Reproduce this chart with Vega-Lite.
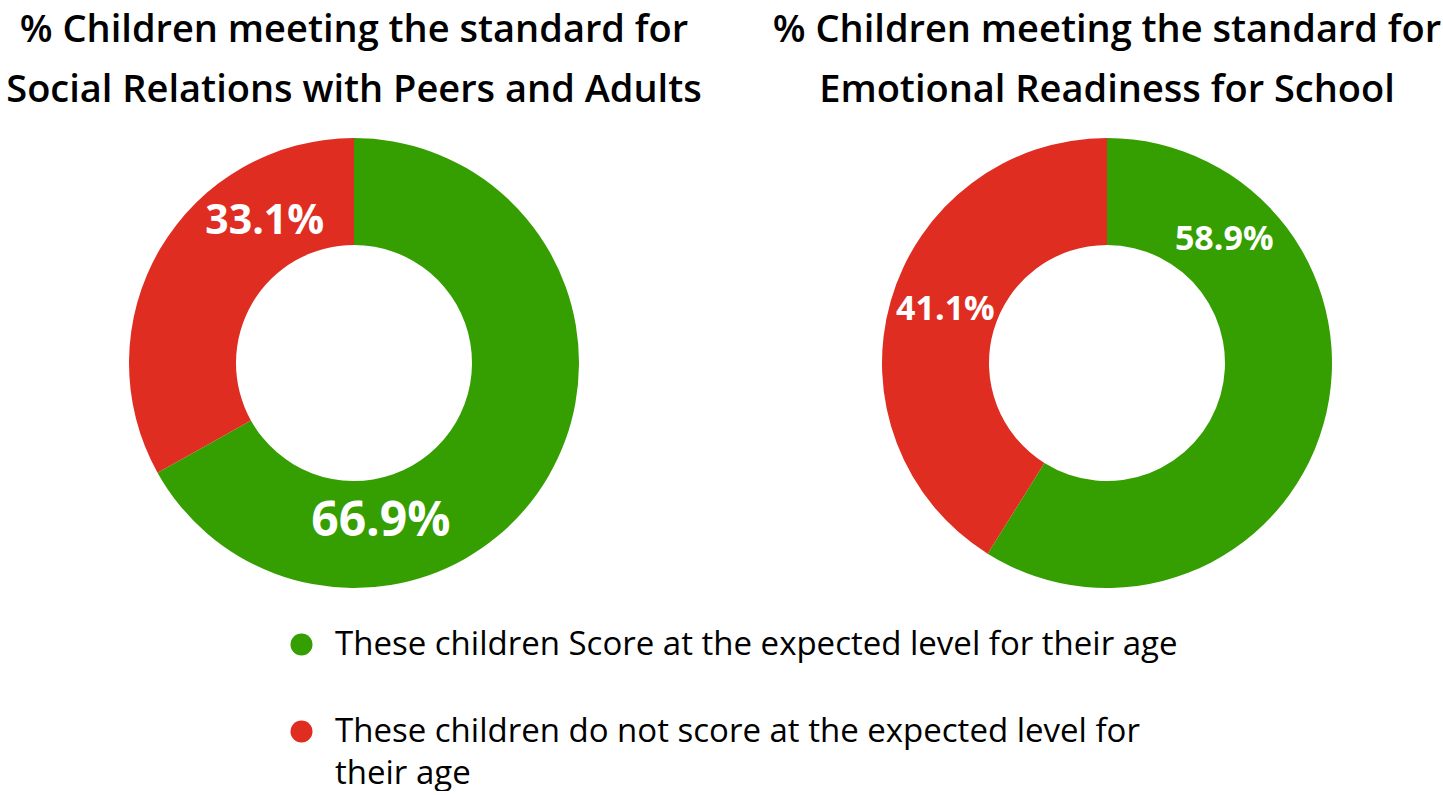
{
  "$schema": "https://vega.github.io/schema/vega-lite/v6.json",
  "padding": {"top": 12, "left": 0, "right": 0, "bottom": 0},
  "background": "white",
  "datasets": {
    "scores": [
      {"chart": "social", "group": "These children Score at the expected level for their age", "value": 0.669, "order": 1},
      {"chart": "social", "group": "These children do not score at the expected level for their age", "value": 0.331, "order": 2},
      {"chart": "emotional", "group": "These children Score at the expected level for their age", "value": 0.589, "order": 1},
      {"chart": "emotional", "group": "These children do not score at the expected level for their age", "value": 0.411, "order": 2}
    ]
  },
  "spacing": 63,
  "bounds": "flush",
  "resolve": {"scale": {"color": "shared"}},
  "hconcat": [
    {
      "width": 708,
      "height": 490,
      "data": {"name": "scores"},
      "transform": [
        {"filter": "datum.chart == 'social'"},
        {"stack": "value", "groupby": [], "sort": [{"field": "order"}], "as": ["start", "end"]}
      ],
      "title": {
        "text": ["% Children meeting the standard for", "Social Relations with Peers and Adults"],
        "fontSize": 38,
        "fontWeight": 600,
        "lineHeight": 60,
        "offset": 8,
        "anchor": "middle",
        "color": "black"
      },
      "layer": [
        {
          "mark": {"type": "arc", "outerRadius": 225, "innerRadius": 118},
          "encoding": {
            "theta": {"field": "start", "type": "quantitative", "scale": {"domain": [0, 1]}},
            "theta2": {"field": "end"},
            "color": {
              "field": "group",
              "type": "nominal",
              "scale": {
                "domain": ["These children Score at the expected level for their age", "These children do not score at the expected level for their age"],
                "range": ["#359e00", "#e02d22"]
              },
              "legend": {
                "orient": "none",
                "legendX": 285,
                "legendY": 510,
                "title": null,
                "symbolType": "circle",
                "symbolSize": 484,
                "symbolStrokeWidth": 0,
                "labelFontSize": 33,
                "labelLimit": 1000,
                "labelOffset": 17,
                "labelColor": "black",
                "rowPadding": 53,
                "labelExpr": "datum.label == 'These children do not score at the expected level for their age' ? ['These children do not score at the expected level for', 'their age'] : datum.label",
                "encode": {"labels": {"update": {"lineHeight": {"value": 42}}}}
              }
            }
          }
        },
        {
          "transform": [{"filter": "datum.order == 1"}],
          "mark": {"type": "text", "radius": 161, "thetaOffset": 2.974, "color": "white", "fontWeight": 700, "fontSize": 48},
          "encoding": {
            "theta": {"field": "start", "type": "quantitative"},
            "text": {"field": "value", "type": "quantitative", "format": ".1%"}
          }
        },
        {
          "transform": [{"filter": "datum.order == 2"}],
          "mark": {"type": "text", "radius": 167, "thetaOffset": 1.516, "color": "white", "fontWeight": 700, "fontSize": 41},
          "encoding": {
            "theta": {"field": "start", "type": "quantitative"},
            "text": {"field": "value", "type": "quantitative", "format": ".1%"}
          }
        }
      ]
    },
    {
      "width": 672,
      "height": 490,
      "data": {"name": "scores"},
      "transform": [
        {"filter": "datum.chart == 'emotional'"},
        {"stack": "value", "groupby": [], "sort": [{"field": "order"}], "as": ["start", "end"]}
      ],
      "title": {
        "text": ["% Children meeting the standard for", "Emotional Readiness for School"],
        "fontSize": 38,
        "fontWeight": 600,
        "lineHeight": 60,
        "offset": 8,
        "anchor": "middle",
        "color": "black"
      },
      "layer": [
        {
          "mark": {"type": "arc", "outerRadius": 225, "innerRadius": 118},
          "encoding": {
            "theta": {"field": "start", "type": "quantitative", "scale": {"domain": [0, 1]}},
            "theta2": {"field": "end"},
            "color": {"field": "group", "type": "nominal"}
          }
        },
        {
          "transform": [{"filter": "datum.order == 1"}],
          "mark": {"type": "text", "radius": 170, "thetaOffset": 0.761, "color": "white", "fontWeight": 700, "fontSize": 34},
          "encoding": {
            "theta": {"field": "start", "type": "quantitative"},
            "text": {"field": "value", "type": "quantitative", "format": ".1%"}
          }
        },
        {
          "transform": [{"filter": "datum.order == 2"}],
          "mark": {"type": "text", "radius": 170, "thetaOffset": 1.327, "color": "white", "fontWeight": 700, "fontSize": 34},
          "encoding": {
            "theta": {"field": "start", "type": "quantitative"},
            "text": {"field": "value", "type": "quantitative", "format": ".1%"}
          }
        }
      ]
    }
  ],
  "config": {
    "font": "Open Sans",
    "view": {"stroke": null}
  }
}
